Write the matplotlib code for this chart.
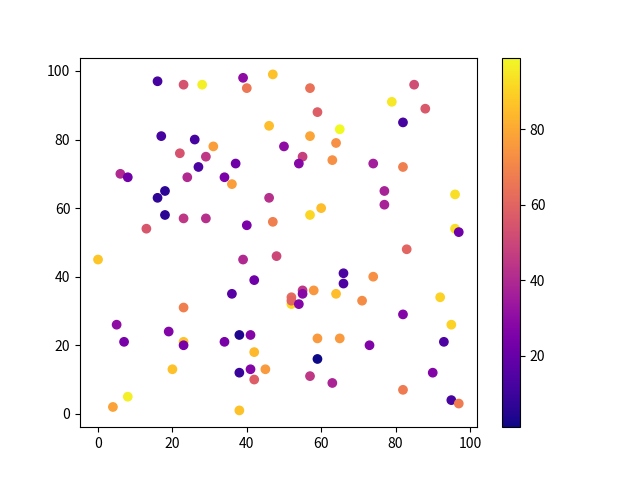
import numpy as np
import matplotlib
matplotlib.use("Agg")
import matplotlib.pyplot as plt

plt.rcParams['font.family'] = ['Noto Sans CJK SC', 'DejaVu Sans']

# x, y and colour value of each point
x = [16, 23, 28, 39, 40, 47, 46, 17, 26, 31,
     22, 29, 27, 37, 6, 8, 24, 34, 36, 57,
     59, 85, 79, 88, 82, 65, 57, 64, 50, 55,
     54, 63, 74, 82, 18, 16, 18, 23, 29, 13,
     40, 47, 46, 0, 39, 48, 42, 36, 77, 77,
     57, 60, 96, 96, 97, 83, 66, 66, 74, 52,
     52, 52, 55, 55, 54, 58, 64, 71, 92, 82,
     95, 59, 65, 73, 93, 59, 57, 63, 90, 82,
     95, 97, 23, 5, 19, 7, 23, 23, 34, 38,
     41, 42, 45, 38, 41, 42, 20, 8, 4, 38]
y = [97, 96, 96, 98, 95, 99, 84, 81, 80, 78,
     76, 75, 72, 73, 70, 69, 69, 69, 67, 95,
     88, 96, 91, 89, 85, 83, 81, 79, 78, 75,
     73, 74, 73, 72, 65, 63, 58, 57, 57, 54,
     55, 56, 63, 45, 45, 46, 39, 35, 65, 61,
     58, 60, 64, 54, 53, 48, 41, 38, 40, 32,
     34, 33, 36, 35, 32, 36, 35, 33, 34, 29,
     26, 22, 22, 20, 21, 16, 11, 9, 12, 7,
     4, 3, 31, 26, 24, 21, 21, 20, 21, 23,
     23, 18, 13, 12, 13, 10, 13, 5, 2, 1]
c = [12, 54, 97, 30, 66, 86, 85, 12, 12, 77,
     54, 45, 13, 22, 40, 22, 40, 25, 77, 64,
     58, 52, 95, 56, 12, 99, 79, 73, 30, 48,
     28, 73, 36, 68, 6, 7, 6, 45, 42, 55,
     25, 68, 42, 87, 40, 50, 22, 16, 37, 37,
     91, 85, 93, 93, 22, 60, 13, 14, 73, 91,
     62, 60, 45, 28, 27, 75, 85, 72, 90, 27,
     90, 76, 76, 26, 14, 1, 45, 38, 27, 67,
     12, 67, 68, 30, 27, 24, 86, 24, 24, 4,
     27, 84, 76, 9, 27, 58, 86, 97, 78, 86]

fig, ax = plt.subplots(figsize=(6.4, 4.8), dpi=100)
sc = ax.scatter(x, y, c=c, cmap='plasma')
fig.colorbar(sc, ax=ax)
fig.savefig('out.png')
